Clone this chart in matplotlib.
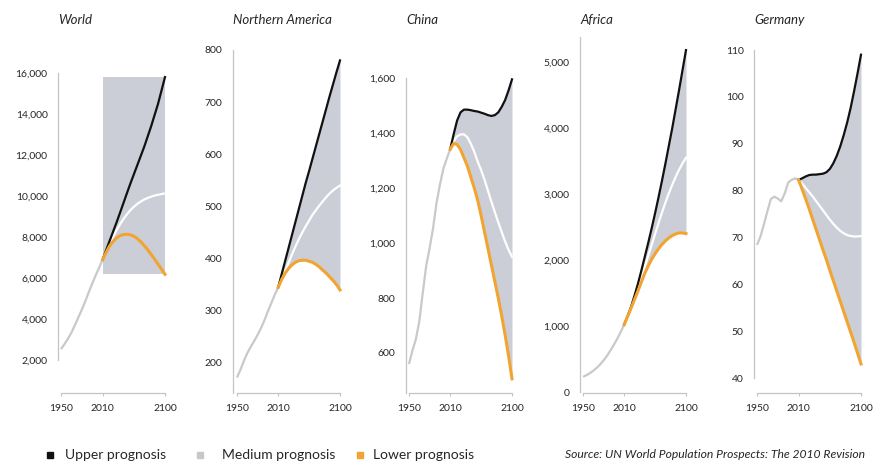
import matplotlib
matplotlib.use("Agg")
import matplotlib.pyplot as plt
from matplotlib.lines import Line2D

plt.rcParams['font.family'] = ['Lato', 'DejaVu Sans']

# ---- data (population, millions) ----
hist_years = [1950, 1955, 1960, 1965, 1970, 1975, 1980, 1985, 1990, 1995, 2000, 2005, 2010]
proj_years = [2010, 2015, 2020, 2025, 2030, 2035, 2040, 2045, 2050, 2055,
              2060, 2065, 2070, 2075, 2080, 2085, 2090, 2095, 2100]

world_hist = [2532, 2772, 3038, 3333, 3696, 4076, 4453, 4863, 5306, 5726, 6123, 6507, 6896]
world_high = [6896, 7350, 7800, 8250, 8700, 9170, 9650, 10130, 10600, 11050,
              11500, 11950, 12400, 12900, 13400, 13950, 14500, 15150, 15800]
world_med = [6896, 7300, 7675, 8010, 8321, 8610, 8874, 9100, 9306, 9470,
             9615, 9730, 9827, 9905, 9969, 10020, 10061, 10095, 10125]
world_low = [6896, 7240, 7560, 7780, 7950, 8060, 8120, 8130, 8112, 8040,
             7920, 7770, 7580, 7380, 7150, 6920, 6670, 6430, 6177]

na_hist = [172, 187, 204, 219, 231, 242, 254, 267, 282, 299, 315, 331, 345]
na_high = [345, 370, 395, 420, 445, 470, 495, 520, 545, 568,
           592, 616, 640, 664, 688, 712, 735, 758, 780]
na_med = [345, 361, 376, 392, 408, 423, 437, 450, 462, 473,
          484, 493, 502, 510, 518, 525, 531, 536, 540]
na_low = [345, 360, 372, 381, 388, 393, 396, 397, 397, 395,
          393, 389, 384, 378, 372, 365, 358, 350, 340]

china_hist = [560, 609, 650, 715, 818, 916, 981, 1053, 1145, 1211, 1270, 1307, 1341]
china_high = [1341, 1395, 1445, 1475, 1485, 1485, 1483, 1480, 1478, 1474,
              1470, 1465, 1462, 1465, 1475, 1495, 1520, 1555, 1595]
china_med = [1341, 1370, 1388, 1395, 1395, 1385, 1361, 1332, 1296, 1265,
             1230, 1190, 1150, 1112, 1075, 1040, 1005, 975, 950]
china_low = [1341, 1362, 1358, 1340, 1310, 1280, 1240, 1200, 1156, 1100,
             1040, 980, 920, 860, 800, 735, 665, 590, 506]

africa_hist = [229, 255, 285, 323, 366, 418, 478, 549, 630, 717, 808, 911, 1022]
africa_high = [1022, 1150, 1290, 1460, 1640, 1840, 2050, 2260, 2480, 2710,
               2950, 3200, 3460, 3730, 4000, 4290, 4580, 4880, 5180]
africa_med = [1022, 1150, 1280, 1430, 1580, 1740, 1900, 2065, 2230, 2395,
              2560, 2720, 2870, 3010, 3140, 3260, 3370, 3465, 3550]
africa_low = [1022, 1145, 1270, 1400, 1530, 1665, 1800, 1910, 2010, 2095,
              2170, 2235, 2290, 2335, 2370, 2395, 2410, 2410, 2400]

germany_hist = [68.4, 70.2, 72.8, 75.6, 78.2, 78.7, 78.3, 77.7, 79.4, 81.7, 82.3, 82.6, 82.3]
germany_high = [82.3, 82.6, 83.0, 83.3, 83.4, 83.4, 83.5, 83.6, 83.9, 84.6,
                85.8, 87.4, 89.4, 91.8, 94.5, 97.6, 101.2, 105.0, 109.0]
germany_med = [82.3, 81.5, 80.6, 79.7, 78.8, 77.8, 76.8, 75.8, 74.8, 73.8,
               72.9, 72.1, 71.4, 70.9, 70.5, 70.3, 70.2, 70.2, 70.3]
germany_low = [82.3, 80.3, 78.3, 76.2, 74.0, 71.8, 69.6, 67.4, 65.3, 63.0,
               60.8, 58.6, 56.4, 54.2, 52.0, 49.8, 47.6, 45.3, 43.0]

titles = ["World", "Northern America", "China", "Africa", "Germany"]
x_ticks = [1950, 2010, 2100]

# ---- styling ----
C_HIGH = "#111111"
C_MED = "#ffffff"
C_LOW = "#f2a431"
C_HIST = "#c9c9c9"
C_BAND = "#cbced6"
C_AXIS = "#c4c4c4"
C_TEXT = "#262626"

W, H = 878, 462
fig = plt.figure(figsize=(W / 100, H / 100), dpi=100)

BASE_PX = 393   # x-axis line
TOP_PX = 32     # top of each axes box

# layout of each panel in pixels: axis x, x of 1950, x of 2100,
# (value, pixel) pairs for the y scale, y ticks, spine extent, band style
layout = [
    dict(ax_x=58, x0=61, x1=165, v_hi=16000, p_hi=73, v_lo=2000, p_lo=360,
         ticks=list(range(2000, 16001, 2000)), spine=(2000, 16000), rect=True),
    dict(ax_x=233, x0=237, x1=340, v_hi=800, p_hi=50, v_lo=200, p_lo=363,
         ticks=list(range(200, 801, 100)), spine=(None, 800), rect=False),
    dict(ax_x=406, x0=409, x1=512, v_hi=1600, p_hi=78, v_lo=600, p_lo=353,
         ticks=list(range(600, 1601, 200)), spine=(None, 1600), rect=False),
    dict(ax_x=580, x0=583, x1=686, v_hi=5000, p_hi=62, v_lo=0, p_lo=392,
         ticks=list(range(0, 5001, 1000)), spine=(0, 5380), rect=False),
    dict(ax_x=754, x0=757, x1=861, v_hi=110, p_hi=50, v_lo=40, p_lo=378,
         ticks=list(range(40, 111, 10)), spine=(40, 110), rect=False),
]

series = [
    (world_hist, world_high, world_med, world_low),
    (na_hist, na_high, na_med, na_low),
    (china_hist, china_high, china_med, china_low),
    (africa_hist, africa_high, africa_med, africa_low),
    (germany_hist, germany_high, germany_med, germany_low),
]

for title, lay, (hist, high, med, low) in zip(titles, layout, series):
    right_px = lay["x1"] + 4
    ax = fig.add_axes([lay["ax_x"] / W, 1 - BASE_PX / H,
                       (right_px - lay["ax_x"]) / W, (BASE_PX - TOP_PX) / H])
    ppy = (lay["x1"] - lay["x0"]) / 150.0
    ax.set_xlim(1950 - (lay["x0"] - lay["ax_x"]) / ppy, 2100 + 4 / ppy)
    vpp = (lay["v_hi"] - lay["v_lo"]) / (lay["p_lo"] - lay["p_hi"])
    y0 = lay["v_lo"] - (BASE_PX - lay["p_lo"]) * vpp
    y1 = lay["v_hi"] + (lay["p_hi"] - TOP_PX) * vpp
    ax.set_ylim(y0, y1)

    # uncertainty band
    if lay["rect"]:
        ax.fill_between([proj_years[0], proj_years[-1]], min(low), max(high),
                        color=C_BAND, lw=0, zorder=1)
    else:
        ax.fill_between(proj_years, low, high, color=C_BAND, lw=0, zorder=1)

    ax.plot(hist_years, hist, color=C_HIST, lw=1.6, zorder=2,
            solid_capstyle="butt")
    ax.plot(proj_years, med, color=C_MED, lw=1.6, zorder=3)
    ax.plot(proj_years, high, color=C_HIGH, lw=1.6, zorder=4)
    ax.plot(proj_years, low, color=C_LOW, lw=2.2, zorder=4)

    for s in ("top", "right"):
        ax.spines[s].set_visible(False)
    for s in ("left", "bottom"):
        ax.spines[s].set_color(C_AXIS)
        ax.spines[s].set_linewidth(0.9)
    lo_b, hi_b = lay["spine"]
    ax.spines["left"].set_bounds(y0 if lo_b is None else lo_b, hi_b)
    ax.spines["bottom"].set_bounds(1950, 2100)

    ax.set_yticks(lay["ticks"])
    ax.set_yticklabels([f"{t:,}" for t in lay["ticks"]])
    ax.set_xticks(x_ticks)
    ax.set_xticklabels([str(t) for t in x_ticks])
    ax.tick_params(axis="y", length=0, pad=7.5, labelsize=7.5, labelcolor=C_TEXT)
    ax.tick_params(axis="x", length=2, width=0.8, color=C_AXIS, pad=6,
                   labelsize=7.5, labelcolor=C_TEXT)
    ax.patch.set_alpha(0)

    fig.text(lay["ax_x"] / W, 1 - 20 / H, title, style="italic",
             fontsize=9.5, color=C_TEXT, ha="left", va="center")

# legend row
legend_items = [("Upper prognosis", C_HIGH, 50, 65),
                ("Medium prognosis", "#c8c8c8", 200, 222),
                ("Lower prognosis", C_LOW, 360, 373)]
LEG_Y = 1 - 455 / H
for label, col, mx, tx in legend_items:
    fig.add_artist(Line2D([mx / W], [LEG_Y], marker="s", markersize=5,
                          color=col, lw=0, transform=fig.transFigure))
    fig.text(tx / W, LEG_Y, label, fontsize=10, color=C_TEXT,
             ha="left", va="center")

fig.text(865 / W, LEG_Y, "Source: UN World Population Prospects: The 2010 Revision",
         style="italic", fontsize=8.7, color=C_TEXT, ha="right", va="center")

fig.savefig("out.png", dpi=100, facecolor="white")
